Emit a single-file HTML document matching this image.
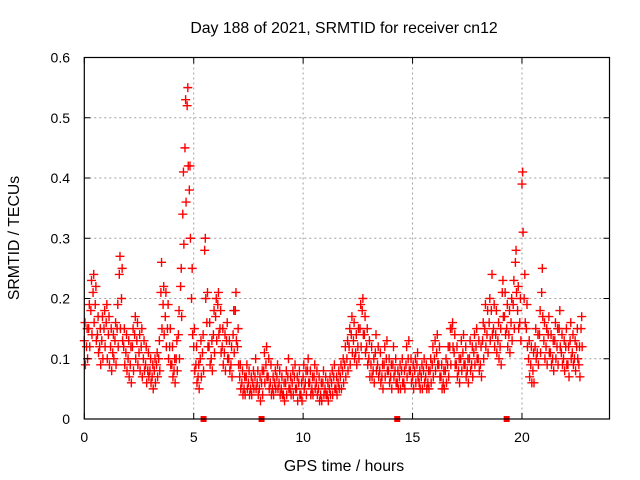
<!DOCTYPE html>
<html><head><meta charset="utf-8"><style>
body{margin:0;background:#fff;}
svg{display:block;font-family:"Liberation Sans",sans-serif;}
</style></head><body>
<svg id="chart" width="640" height="480">
<rect width="640" height="480" fill="#fff"/>
<text x="344" y="33" font-size="15.8" text-anchor="middle">Day 188 of 2021, SRMTID for receiver cn12</text>
<text x="344" y="471" font-size="15.8" text-anchor="middle">GPS time / hours</text>
<text x="0" y="0" font-size="15.8" text-anchor="middle" transform="translate(19,238) rotate(-90)">SRMTID / TECUs</text>
<g id="grid"></g><g id="marks"></g><g id="axes"></g>
</svg>
<script>
const xTicks=[0,5,10,15,20];
const yTicks=[0,0.1,0.2,0.3,0.4,0.5,0.6];
const yTickLabels=["0","0.1","0.2","0.3","0.4","0.5","0.6"];
const seriesA=[.13,.12,.15,.18,.21,.19,.14,.12,.13,.15,.16,.14,.12,.11,.13,.15,.24,.20,.12,.11,.10,.09,.12,.14,.13,.11,.12,.10,.09,.08,.08,.07,.08,.09,.10,.21,.19,.17,.15,.12,.09,.08,.10,.14,.22,.34,.45,.52,.38,.20,.12,.09,.07,.10,.11,.28,.16,.12,.10,.14,.17,.19,.15,.12,.11,.13,.10,.09,.14,.18,.12,.07,.06,.05,.07,.06,.05,.06,.07,.06,.05,.06,.08,.09,.07,.06,.05,.06,.07,.06,.05,.04,.06,.07,.05,.06,.07,.05,.06,.04,.07,.06,.08,.06,.05,.07,.06,.05,.04,.06,.05,.04,.05,.06,.07,.05,.06,.07,.08,.09,.10,.12,.14,.13,.11,.12,.15,.18,.14,.12,.10,.09,.08,.11,.09,.08,.07,.09,.10,.08,.07,.09,.08,.06,.07,.08,.06,.09,.10,.08,.07,.08,.09,.06,.07,.08,.07,.06,.08,.09,.10,.11,.09,.07,.06,.08,.09,.12,.15,.11,.09,.08,.10,.11,.09,.08,.10,.09,.11,.12,.10,.09,.13,.15,.14,.16,.18,.15,.14,.13,.12,.21,.17,.15,.14,.16,.19,.26,.18,.16,.39,.20,.15,.10,.09,.08,.12,.11,.14,.21,.13,.12,.14,.11,.10,.13,.12,.15,.11,.10,.12,.09,.13,.11,.10,.12,.09,.15];
const seriesB=[.09,.10,.12,.14,.16,.13,.11,.09,.10,.12,.10,.09,.08,.10,.09,.12,.15,.13,.09,.08,.07,.06,.08,.10,.09,.08,.07,.08,.06,.07,.06,.05,.06,.07,.08,.15,.14,.12,.10,.09,.07,.06,.08,.10,.17,.29,.36,.42,.30,.14,.08,.06,.05,.07,.08,.20,.12,.09,.08,.11,.13,.14,.11,.09,.08,.10,.08,.07,.11,.13,.09,.05,.04,.04,.05,.04,.04,.05,.05,.04,.03,.04,.06,.07,.05,.04,.04,.05,.05,.04,.04,.03,.04,.05,.04,.04,.05,.03,.04,.03,.05,.04,.06,.04,.04,.05,.04,.03,.03,.04,.04,.03,.04,.04,.05,.04,.05,.05,.06,.07,.08,.09,.11,.10,.09,.10,.12,.14,.11,.09,.07,.07,.06,.08,.07,.06,.05,.07,.08,.06,.05,.07,.06,.05,.05,.06,.05,.07,.08,.06,.05,.06,.07,.05,.05,.06,.05,.05,.06,.07,.08,.09,.07,.05,.05,.06,.07,.09,.12,.09,.07,.06,.08,.09,.07,.06,.08,.07,.09,.10,.08,.07,.10,.12,.11,.13,.14,.12,.11,.10,.09,.17,.14,.12,.11,.13,.15,.21,.15,.13,.31,.16,.12,.07,.06,.06,.10,.09,.11,.17,.10,.09,.11,.09,.08,.10,.09,.12,.09,.08,.09,.07,.10,.09,.08,.10,.07,.12];
const seriesC=[.16,.15,.19,.23,.24,.22,.17,.15,.17,.18,.19,.17,.15,.14,.16,.19,.27,.25,.15,.14,.13,.12,.15,.17,.16,.14,.15,.13,.12,.11,.10,.09,.10,.11,.13,.26,.22,.21,.19,.15,.12,.10,.13,.18,.25,.41,.53,.55,.42,.25,.15,.12,.09,.13,.14,.30,.21,.16,.13,.18,.20,.21,.18,.15,.14,.16,.13,.12,.18,.21,.15,.09,.08,.07,.09,.08,.07,.08,.10,.08,.07,.08,.11,.12,.10,.09,.07,.08,.09,.08,.07,.06,.08,.10,.07,.08,.09,.07,.08,.06,.09,.08,.10,.08,.07,.09,.08,.07,.06,.08,.07,.06,.07,.08,.09,.07,.08,.09,.10,.12,.13,.15,.17,.16,.14,.15,.19,.20,.17,.15,.13,.12,.10,.14,.12,.11,.09,.12,.13,.10,.09,.12,.10,.08,.09,.10,.08,.12,.13,.10,.09,.10,.11,.08,.09,.10,.09,.08,.10,.12,.13,.14,.12,.09,.08,.10,.12,.15,.16,.14,.12,.10,.13,.14,.12,.10,.13,.12,.14,.15,.13,.12,.16,.19,.18,.20,.24,.19,.18,.16,.15,.23,.21,.19,.18,.20,.23,.28,.22,.20,.41,.24,.19,.13,.12,.11,.15,.14,.18,.25,.16,.15,.17,.14,.13,.16,.15,.18,.14,.13,.15,.12,.16,.14,.13,.15,.12,.17];
const seriesStart=[0.0,0.05,0.03];
const sampleStep=0.1;
const gapTimes=[5.45,8.1,14.3,19.3];

const NS="http://www.w3.org/2000/svg";
const L=84.3,R=609.5,T=57.5,B=419,XMAX=24,YMAX=0.6;
const xs=v=>L+v/XMAX*(R-L);
const ys=v=>B-v/YMAX*(B-T);
function mk(tag,attrs,parent){const e=document.createElementNS(NS,tag);for(const k in attrs)e.setAttribute(k,attrs[k]);parent.appendChild(e);return e;}
const grid=document.getElementById('grid'),marks=document.getElementById('marks'),axes=document.getElementById('axes');
xTicks.forEach((t,i)=>{
  const x=xs(t);
  if(t>0){const g=mk('line',{x1:x,x2:x,y1:T,y2:B,stroke:'#a0a0a0','stroke-dasharray':'2,3'},grid);
  
  }
  mk('line',{x1:x,x2:x,y1:B,y2:B-6,stroke:'#000'},axes);
  mk('line',{x1:x,x2:x,y1:T,y2:T+6,stroke:'#000'},axes);
  const tx=mk('text',{x:x,y:442,'font-size':14,'text-anchor':'middle'},axes);
  tx.textContent=String(t);
  
  
});
yTicks.forEach((t,i)=>{
  const y=ys(t);
  if(t>0&&t<YMAX){const g=mk('line',{x1:L,x2:R,y1:y,y2:y,stroke:'#a0a0a0','stroke-dasharray':'2,3'},grid);
  
  }
  mk('line',{x1:L,x2:L+6,y1:y,y2:y,stroke:'#000'},axes);
  mk('line',{x1:R,x2:R-6,y1:y,y2:y,stroke:'#000'},axes);
  const tx=mk('text',{x:70,y:y+5,'font-size':14,'text-anchor':'end'},axes);
  tx.textContent=yTickLabels[i];
  
  
});
const frame=mk('rect',{x:L,y:T,width:R-L,height:B-T,fill:'none',stroke:'#000','stroke-width':1.2},axes);


[seriesA,seriesB,seriesC].forEach((s,si)=>{
  s.forEach((v,i)=>{
    const x=xs(seriesStart[si]+i*sampleStep),y=ys(v);
    const p=mk('path',{d:`M${x-4.5},${y}H${x+4.5}M${x},${y-4.5}V${y+4.5}`,stroke:'#f00','stroke-width':1.4},marks);
    
    
  });
});
gapTimes.forEach(t=>{
  const r=mk('rect',{x:xs(t)-3,y:B-3,width:6,height:6,fill:'#f00'},marks);
  
  
});
</script>
</body></html>
